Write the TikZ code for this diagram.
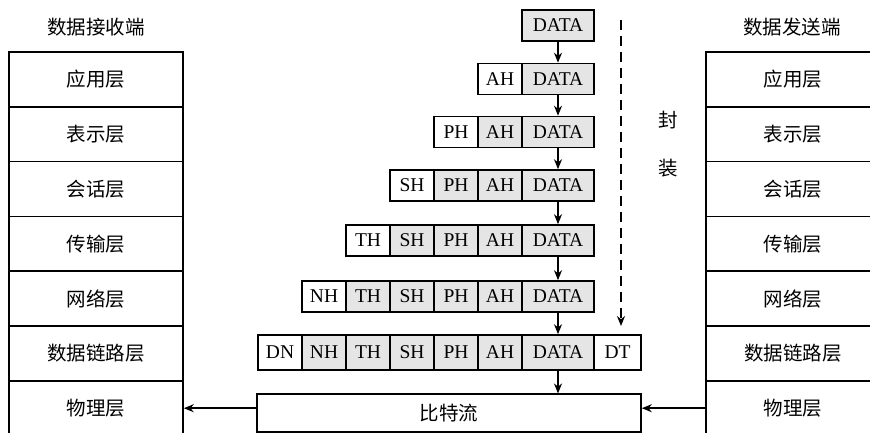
\documentclass[tikz,border=0pt]{standalone}
\usepackage{fontspec}
\setmainfont{Liberation Serif}
\newfontfamily\cjk{Noto Sans CJK SC}[FakeStretch=1]
\usetikzlibrary{arrows.meta}
\definecolor{cellgray}{gray}{0.9}
\newcommand\txtsize{\fontsize{19.5}{21}\selectfont}
\tikzset{
  cell/.style={draw,line width=1.6pt,inner sep=0pt,minimum height=31pt,font=\txtsize},
  hdr/.style={cell,minimum width=44pt},
  old/.style={hdr,fill=cellgray},
  data/.style={cell,minimum width=72pt,fill=cellgray},
  layer/.style={draw,line width=1.6pt,inner sep=0pt,minimum width=174pt,minimum height=54.8pt,font=\cjk\txtsize},
  flow/.style={line width=1.6pt,-{Stealth[length=10pt,width=8pt]}}
}

\begin{document}
\begin{tikzpicture}[x=1pt,y=-1pt]
    \useasboundingbox (0,0) rectangle (870,432);
    % receiver side
    \node (recv) at (96,27) [font=\cjk\txtsize] {数据接收端};
    \node (L1) at (96,79.4) [layer] {应用层};
    \node (L2) at (96,134.2) [layer] {表示层};
    \node (L3) at (96,189) [layer] {会话层};
    \node (L4) at (96,243.8) [layer] {传输层};
    \node (L5) at (96,298.6) [layer] {网络层};
    \node (L6) at (96,353.4) [layer] {数据链路层};
    \node (L7) at (96,408.2) [layer] {物理层};
    % sender side
    \node (send) at (792,27) [font=\cjk\txtsize] {数据发送端};
    \node (R1) at (793,79.4) [layer] {应用层};
    \node (R2) at (793,134.2) [layer] {表示层};
    \node (R3) at (793,189) [layer] {会话层};
    \node (R4) at (793,243.8) [layer] {传输层};
    \node (R5) at (793,298.6) [layer] {网络层};
    \node (R6) at (793,353.4) [layer] {数据链路层};
    \node (R7) at (793,408.2) [layer] {物理层};
    % packets
    \node (D1) at (558,25.5) [data] {DATA};
    \node (D2) at (558,79) [data] {DATA};
    \node (A2) at (500,79) [hdr] {AH};
    \node (D3) at (558,132) [data] {DATA};
    \node (A3) at (500,132) [old] {AH};
    \node (P3) at (456,132) [hdr] {PH};
    \node (D4) at (558,185.5) [data] {DATA};
    \node (A4) at (500,185.5) [old] {AH};
    \node (P4) at (456,185.5) [old] {PH};
    \node (S4) at (412,185.5) [hdr] {SH};
    \node (D5) at (558,240.5) [data] {DATA};
    \node (A5) at (500,240.5) [old] {AH};
    \node (P5) at (456,240.5) [old] {PH};
    \node (S5) at (412,240.5) [old] {SH};
    \node (T5) at (368,240.5) [hdr] {TH};
    \node (D6) at (558,296.5) [data] {DATA};
    \node (A6) at (500,296.5) [old] {AH};
    \node (P6) at (456,296.5) [old] {PH};
    \node (S6) at (412,296.5) [old] {SH};
    \node (T6) at (368,296.5) [old] {TH};
    \node (N6) at (324,296.5) [hdr] {NH};
    \node (D7) at (558,352.5) [data,minimum height=35pt] {DATA};
    \node (A7) at (500,352.5) [old,minimum height=35pt] {AH};
    \node (P7) at (456,352.5) [old,minimum height=35pt] {PH};
    \node (S7) at (412,352.5) [old,minimum height=35pt] {SH};
    \node (T7) at (368,352.5) [old,minimum height=35pt] {TH};
    \node (N7) at (324,352.5) [old,minimum height=35pt] {NH};
    \node (DN) at (280,352.5) [hdr,minimum height=35pt] {DN};
    \node (DT) at (617.5,352.5) [cell,minimum width=47pt,minimum height=35pt] {DT};
    \node (bits) at (449,413) [cell,minimum width=384pt,minimum height=37.5pt,font=\cjk\txtsize] {比特流};
    % encapsulation
    \coordinate (top) at (621,20);
    \coordinate (end) at (621,326);
    \draw[flow,line width=1.2pt,dash pattern=on 10pt off 6pt] (top) -- (end);
    \node (feng) at (668,120) [font=\cjk\txtsize] {封};
    \node (zhuang) at (668,168) [font=\cjk\txtsize] {装};
    % arrows
    \draw[flow] (D1) -- (D2);
    \draw[flow] (D2) -- (D3);
    \draw[flow] (D3) -- (D4);
    \draw[flow] (D4) -- (D5);
    \draw[flow] (D5) -- (D6);
    \draw[flow] (D6) -- (D7);
    \draw[flow] (D7.south) -- (D7.south |- bits.north);
    \draw[flow] (bits.west |- L7) -- (L7.east);
    \draw[flow] (R7.west) -- (bits.east |- R7);
  \end{tikzpicture}
\end{document}
